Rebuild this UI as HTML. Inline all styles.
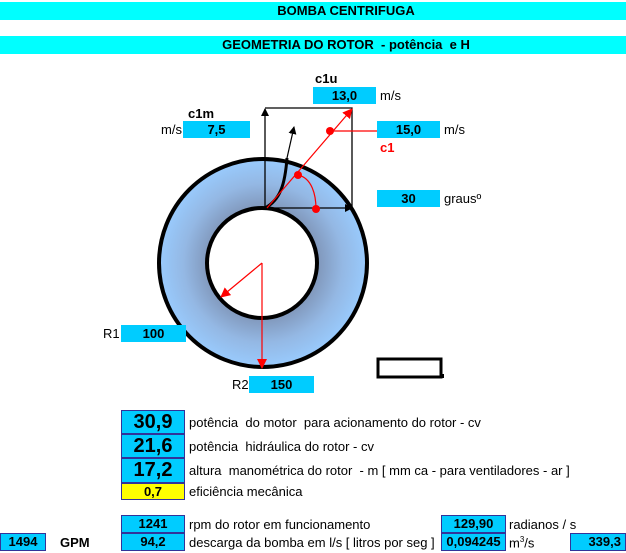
<!DOCTYPE html>
<html><head><meta charset="utf-8"><style>
body{margin:0;width:626px;height:553px;background:#fff;position:relative;overflow:hidden;font-family:"Liberation Sans Narrow","Liberation Sans",sans-serif;}
.a{position:absolute;white-space:nowrap;}
.bar{position:absolute;left:0;width:626px;background:#00ffff;text-align:center;font-weight:bold;font-size:13px;line-height:18px;}
.bx{position:absolute;background:#00ccff;text-align:center;font-weight:bold;font-size:13px;box-sizing:border-box;}
.bb{border:1px solid #333399;}
.t{position:absolute;font-size:13px;white-space:nowrap;}
</style></head><body>
<div class="bar" style="top:2px;height:18px;padding-left:66px;box-sizing:border-box">BOMBA CENTRIFUGA</div>
<div class="bar" style="top:36px;height:18px;padding-left:66px;box-sizing:border-box">GEOMETRIA DO ROTOR &nbsp;- potência &nbsp;e H</div>

<svg class="a" style="left:0;top:0" width="626" height="553">
<defs>
<radialGradient id="g" cx="263" cy="263" r="106" gradientUnits="userSpaceOnUse">
<stop offset="0.5" stop-color="#7f95b8"/><stop offset="0.75" stop-color="#94b8e4"/><stop offset="1" stop-color="#99ccff"/>
</radialGradient>
<marker id="ak" markerWidth="8" markerHeight="8" refX="7" refY="4" orient="auto" markerUnits="userSpaceOnUse"><path d="M0,0 L8,4 L0,8z" fill="#000"/></marker>
<marker id="ar" markerWidth="10" markerHeight="10" refX="9" refY="5" orient="auto" markerUnits="userSpaceOnUse"><path d="M0,0 L10,5 L0,10z" fill="#f00"/></marker>
</defs>
<circle cx="263" cy="263" r="104" fill="url(#g)" stroke="#000" stroke-width="4"/>
<circle cx="262" cy="263" r="55" fill="#fff" stroke="#000" stroke-width="4"/>
<line x1="262" y1="263" x2="221" y2="297" stroke="#f00" stroke-width="1.2" marker-end="url(#ar)"/>
<line x1="262" y1="263" x2="262" y2="368" stroke="#f00" stroke-width="1.2" marker-end="url(#ar)"/>
<line x1="265" y1="208" x2="265" y2="109" stroke="#000" stroke-width="1.3" marker-end="url(#ak)"/>
<polyline points="265,108 352,108 352,208" fill="none" stroke="#000" stroke-width="1.3"/>
<line x1="265" y1="208" x2="352" y2="208" stroke="#000" stroke-width="1.3" marker-end="url(#ak)"/>
<path d="M265,208 C280,200 285,185 287,158" fill="none" stroke="#000" stroke-width="3"/>
<line x1="287" y1="158" x2="294" y2="127" stroke="#000" stroke-width="1.2" marker-end="url(#ak)"/>
<line x1="267" y1="208" x2="352" y2="109" stroke="#f00" stroke-width="1.2" marker-end="url(#ar)"/>
<line x1="330" y1="131" x2="377" y2="131" stroke="#f00" stroke-width="1.2"/>
<path d="M298,175 C312,178 316,195 316,209" fill="none" stroke="#f00" stroke-width="1.2"/>
<circle cx="330" cy="131" r="4" fill="#f00"/>
<circle cx="298" cy="175" r="4" fill="#f00"/>
<circle cx="316" cy="209" r="4" fill="#f00"/>
<rect x="378" y="359" width="63" height="18" fill="none" stroke="#000" stroke-width="3"/>
<rect x="440" y="374" width="4" height="4" fill="#000"/>
</svg>

<div class="t" style="left:315px;top:71px;font-weight:bold">c1u</div>
<div class="bx" style="left:313px;top:87px;width:63px;height:17px;line-height:17px">13,0</div>
<div class="t" style="left:380px;top:88px">m/s</div>
<div class="t" style="left:188px;top:106px;font-weight:bold">c1m</div>
<div class="t" style="left:161px;top:122px">m/s</div>
<div class="bx" style="left:183px;top:121px;width:67px;height:17px;line-height:17px">7,5</div>
<div class="bx" style="left:377px;top:121px;width:63px;height:17px;line-height:17px">15,0</div>
<div class="t" style="left:444px;top:122px">m/s</div>
<div class="t" style="left:380px;top:140px;color:#f00;font-weight:bold">c1</div>
<div class="bx" style="left:377px;top:190px;width:63px;height:17px;line-height:17px">30</div>
<div class="t" style="left:444px;top:191px">grausº</div>
<div class="t" style="left:103px;top:326px">R1</div>
<div class="bx" style="left:121px;top:325px;width:65px;height:17px;line-height:17px">100</div>
<div class="t" style="left:232px;top:377px">R2</div>
<div class="bx" style="left:249px;top:376px;width:65px;height:17px;line-height:17px">150</div>

<div class="bx bb" style="left:121px;top:410px;width:64px;height:24px;line-height:22px;font-size:20px">30,9</div>
<div class="t" style="left:189px;top:415px">potência &nbsp;do motor &nbsp;para acionamento do rotor - cv</div>
<div class="bx bb" style="left:121px;top:434px;width:64px;height:24px;line-height:22px;font-size:20px">21,6</div>
<div class="t" style="left:189px;top:439px">potência &nbsp;hidráulica do rotor - cv</div>
<div class="bx bb" style="left:121px;top:458px;width:64px;height:25px;line-height:23px;font-size:20px">17,2</div>
<div class="t" style="left:189px;top:463px">altura &nbsp;manométrica do rotor &nbsp;- m [ mm ca - para ventiladores - ar ]</div>
<div class="bx bb" style="left:121px;top:483px;width:64px;height:17px;line-height:15px;background:#ffff00">0,7</div>
<div class="t" style="left:189px;top:484px">eficiência mecânica</div>

<div class="bx bb" style="left:121px;top:515px;width:64px;height:18px;line-height:16px">1241</div>
<div class="t" style="left:189px;top:517px">rpm do rotor em funcionamento</div>
<div class="bx bb" style="left:441px;top:515px;width:65px;height:18px;line-height:16px">129,90</div>
<div class="t" style="left:509px;top:517px">radianos / s</div>
<div class="bx bb" style="left:0;top:533px;width:46px;height:18px;line-height:16px">1494</div>
<div class="t" style="left:60px;top:535px;font-weight:bold">GPM</div>
<div class="bx bb" style="left:121px;top:533px;width:64px;height:18px;line-height:16px">94,2</div>
<div class="t" style="left:189px;top:535px">descarga da bomba em l/s [ litros por seg ]</div>
<div class="bx bb" style="left:441px;top:533px;width:65px;height:18px;line-height:16px">0,094245</div>
<div class="t" style="left:509px;top:535px">m<sup style="font-size:8px">3</sup>/s</div>
<div class="bx bb" style="left:570px;top:533px;width:56px;height:18px;line-height:16px;text-align:right;padding-right:4px">339,3</div>
</body></html>
